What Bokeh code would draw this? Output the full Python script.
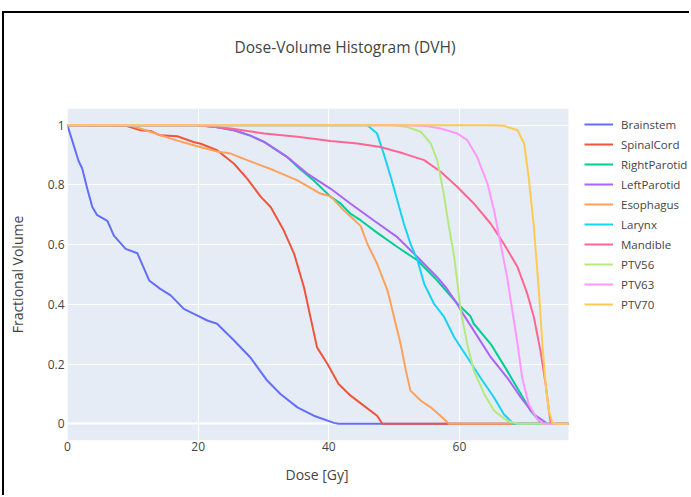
from bokeh.plotting import figure
from bokeh.models import Range1d, FixedTicker, Legend, LegendItem, Grid, BoxAnnotation, Title
from bokeh.embed import file_html
from bokeh.resources import INLINE

# ---------------- data ----------------
series_names = ["Brainstem", "SpinalCord", "RightParotid", "LeftParotid", "Esophagus",
                "Larynx", "Mandible", "PTV56", "PTV63", "PTV70"]
series_colors = ["#636EFA", "#EF553B", "#00CC96", "#AB63FA", "#FFA15A",
                 "#19D3F3", "#FF6692", "#B6E880", "#FF97FF", "#FECB52"]

brainstem_dose = [0, 0.7, 1.7, 2.25, 3.0, 3.8, 4.5, 6.1, 7.1, 8.9, 10.7, 12.5, 14.2, 15.8, 17.8,
                  19.9, 21.4, 22.9, 25.5, 28.0, 30.6, 32.6, 35.2, 37.7, 40.8, 41.5, 76.7]
brainstem_vol = [1.0, 0.95, 0.88, 0.855, 0.79, 0.726, 0.70, 0.68, 0.63, 0.586, 0.571, 0.48, 0.452, 0.43, 0.385,
                 0.362, 0.346, 0.335, 0.279, 0.222, 0.144, 0.10, 0.055, 0.027, 0.003, 0.0, 0.0]

spinalcord_dose = [0, 9.1, 11.2, 12.7, 14.2, 16.8, 19.3, 20.4, 22.9, 25.5, 27.5, 29.6, 31.1, 33.1, 34.7,
                   36.2, 37.2, 38.2, 39.8, 41.5, 43.3, 45.4, 47.4, 48.2, 76.7]
spinalcord_vol = [1.0, 0.997, 0.983, 0.981, 0.966, 0.963, 0.944, 0.938, 0.916, 0.871, 0.821, 0.76, 0.726, 0.648, 0.569,
                  0.457, 0.357, 0.256, 0.20, 0.133, 0.095, 0.06, 0.027, 0.0, 0.0]

rightparotid_dose = [0, 19.9, 22.5, 25.5, 28.0, 30.1, 33.6, 35.5, 37.7, 40.3, 41.8, 43.3, 44.9, 46.9, 50.5,
                     53.6, 56.6, 59.7, 61.7, 62.2, 64.8, 67.3, 69.4, 70.9, 72.4, 73.5, 76.7]
rightparotid_vol = [1.0, 1.0, 0.995, 0.983, 0.965, 0.944, 0.894, 0.855, 0.815, 0.76, 0.738, 0.704, 0.681, 0.648, 0.592,
                    0.547, 0.48, 0.402, 0.36, 0.335, 0.267, 0.178, 0.10, 0.044, 0.005, 0.0, 0.0]

leftparotid_dose = [0, 19.9, 22.5, 25.5, 28.0, 30.1, 33.6, 36.7, 40.3, 43.3, 46.9, 50.5, 53.6, 56.6, 58.0,
                    59.7, 60.2, 62.2, 64.8, 67.3, 69.4, 71.4, 73.5, 76.7]
leftparotid_vol = [1.0, 1.0, 0.995, 0.983, 0.965, 0.944, 0.894, 0.838, 0.787, 0.738, 0.681, 0.625, 0.558, 0.491, 0.455,
                   0.40, 0.38, 0.312, 0.223, 0.155, 0.088, 0.032, 0.0, 0.0]

esophagus_dose = [0, 9.5, 11.0, 12.7, 15.8, 19.3, 22.9, 25.0, 27.5, 31.6, 35.2, 38.7, 40.3, 42.3, 44.9, 45.9,
                  47.4, 49.0, 50.0, 51.0, 51.8, 52.5, 54.1, 55.6, 57.1, 58.4, 76.7]
esophagus_vol = [1.0, 1.0, 0.99, 0.978, 0.955, 0.933, 0.912, 0.905, 0.883, 0.849, 0.815, 0.771, 0.762, 0.715, 0.662, 0.603,
                 0.536, 0.446, 0.357, 0.267, 0.178, 0.111, 0.077, 0.055, 0.027, 0.0, 0.0]

larynx_dose = [0, 45.9, 47.4, 48.4, 49.5, 50.5, 51.5, 52.5, 53.6, 54.6, 56.1, 57.6, 59.2, 61.2, 63.2,
               65.3, 66.8, 68.3, 76.7]
larynx_vol = [1.0, 1.0, 0.972, 0.905, 0.826, 0.748, 0.67, 0.603, 0.547, 0.469, 0.402, 0.36, 0.29, 0.223, 0.155,
              0.088, 0.032, 0.0, 0.0]

mandible_dose = [0, 19.9, 25.0, 30.1, 35.2, 40.3, 44.4, 47.9, 51.5, 54.6, 57.1, 59.7, 62.2, 64.8, 66.8,
                 68.9, 70.4, 71.4, 72.4, 73.2, 73.7, 74.0, 76.7]
mandible_vol = [1.0, 1.0, 0.989, 0.972, 0.961, 0.947, 0.939, 0.927, 0.905, 0.883, 0.845, 0.793, 0.738, 0.67, 0.603,
                0.525, 0.435, 0.357, 0.245, 0.133, 0.044, 0.0, 0.0]

ptv56_dose = [0, 50.0, 52.0, 54.1, 55.6, 56.6, 57.6, 58.4, 59.2, 59.9, 60.2, 60.7, 61.2, 62.2, 63.8,
              65.3, 67.3, 68.9, 76.7]
ptv56_vol = [1.0, 1.0, 0.994, 0.978, 0.939, 0.883, 0.771, 0.659, 0.56, 0.435, 0.379, 0.323, 0.267, 0.178, 0.10,
             0.044, 0.01, 0.0, 0.0]

ptv63_dose = [0, 52.0, 55.0, 57.1, 59.7, 61.2, 62.7, 64.3, 65.3, 66.3, 67.3, 68.1, 68.9, 69.6, 70.6,
              71.9, 72.9, 76.7]
ptv63_vol = [1.0, 1.0, 0.997, 0.989, 0.972, 0.95, 0.894, 0.804, 0.715, 0.603, 0.491, 0.379, 0.267, 0.155, 0.066,
             0.016, 0.0, 0.0]

ptv70_dose = [0, 65.0, 66.8, 68.9, 69.9, 70.6, 71.4, 72.2, 72.7, 73.2, 73.7, 74.2, 74.8, 76.7]
ptv70_vol = [1.0, 1.0, 0.998, 0.983, 0.939, 0.826, 0.659, 0.435, 0.267, 0.133, 0.044, 0.005, 0.0, 0.0]

x_ticks = [0, 20, 40, 60]
y_ticks = [0, 0.2, 0.4, 0.6, 0.8, 1]
y_tick_labels = ["0", "0.2", "0.4", "0.6", "0.8", "1"]

series_data = [
    (brainstem_dose, brainstem_vol), (spinalcord_dose, spinalcord_vol),
    (rightparotid_dose, rightparotid_vol), (leftparotid_dose, leftparotid_vol),
    (esophagus_dose, esophagus_vol), (larynx_dose, larynx_vol),
    (mandible_dose, mandible_vol), (ptv56_dose, ptv56_vol),
    (ptv63_dose, ptv63_vol), (ptv70_dose, ptv70_vol),
]

# ---------------- layout ----------------
OX, OY = 4, 13          # page offset of canvas (after css margin + border)
W, H = 687, 484
FL, FR, FT, FB = 67, 568, 108, 440   # plotting area (page coords)
FONT = "Open Sans"
TXT = "#444444"
BG = "#E5ECF6"

x_max = max(max(d) for d, _ in series_data)
# the frame is widened to the canvas edge so the legend can sit inside it;
# the plot background only covers the data range
x_end = x_max * ((OX + W) - FL) / (FR - FL)

p = figure(width=W, height=H, output_backend="svg", toolbar_location=None,
           x_range=Range1d(0, x_end), y_range=Range1d(-0.056, 1.056),
           min_border_left=FL - OX, min_border_right=0,
           min_border_top=FT - OY, min_border_bottom=H - (FB - OY))
p.styles = {"margin-left": "2px", "margin-top": "11px",
            "border-left": "2px solid black", "border-top": "2px solid black"}

p.background_fill_color = "white"
p.border_fill_color = "white"
p.outline_line_color = None
p.add_layout(BoxAnnotation(left=0, right=x_max, fill_color=BG, fill_alpha=1,
                           line_color=None, level="image"))

# spacer (closest to frame) so the title sits higher
p.add_layout(Title(text=" ", text_font_size="1px", standoff=48), "above")
p.title.text = "Dose-Volume Histogram (DVH)"
p.title.align = "left"
p.title.offset = 167
p.title.standoff = 0
p.title.text_font = FONT
p.title.text_font_size = "15.5px"
p.title.text_font_style = "normal"
p.title.text_color = TXT

p.xaxis.ticker = FixedTicker(ticks=x_ticks)
p.xaxis.bounds = (0, x_max)
p.yaxis.ticker = FixedTicker(ticks=y_ticks)
p.yaxis.major_label_overrides = {v: s for v, s in zip(y_ticks, y_tick_labels)}
for ax in (p.xaxis, p.yaxis):
    ax.axis_line_color = None
    ax.major_tick_line_color = None
    ax.minor_tick_line_color = None
    ax.major_tick_out = 0
    ax.major_tick_in = 0
    ax.minor_tick_out = 0
    ax.minor_tick_in = 0
    ax.major_label_text_font = FONT
    ax.major_label_text_font_size = "12px"
    ax.major_label_text_color = TXT
p.yaxis.axis_label = "Fractional Volume"
p.yaxis.axis_label_text_font = FONT
p.yaxis.axis_label_text_font_size = "14px"
p.yaxis.axis_label_text_font_style = "normal"
p.yaxis.axis_label_text_color = TXT
p.xaxis.major_label_standoff = 1
p.yaxis.major_label_standoff = 3
p.yaxis.axis_label_standoff = 18

# x-axis title, centred under the data area (not under the widened frame)
p.add_layout(Title(text="Dose [Gy]", align="left", offset=218, standoff=18,
                   text_font=FONT, text_font_size="14px", text_font_style="normal",
                   text_color=TXT), "below")

p.xgrid.ticker = FixedTicker(ticks=x_ticks[1:])
p.ygrid.ticker = FixedTicker(ticks=y_ticks[1:])
p.ygrid.bounds = (0, x_max)
p.grid.grid_line_color = "white"
p.grid.grid_line_width = 1
p.add_layout(Grid(dimension=1, ticker=FixedTicker(ticks=[0]), bounds=(0, x_max),
                  grid_line_color="white", grid_line_width=2))
p.add_layout(Grid(dimension=0, ticker=FixedTicker(ticks=[0]),
                  grid_line_color="white", grid_line_width=2))

items = []
for name, color, (xs, ys) in zip(series_names, series_colors, series_data):
    r = p.line(xs, ys, line_color=color, line_width=2, line_join="round")
    items.append(LegendItem(label=name, renderers=[r]))

legend = Legend(items=items, location=(584 - FL, 126), orientation="vertical",
                padding=0, margin=0, spacing=0,
                glyph_width=29, glyph_height=20, label_height=20, label_standoff=8,
                label_text_font=FONT, label_text_font_size="11.5px", label_text_color=TXT,
                border_line_color=None, background_fill_alpha=0)
p.add_layout(legend)

open("out.html", "w").write(file_html(p, INLINE))
